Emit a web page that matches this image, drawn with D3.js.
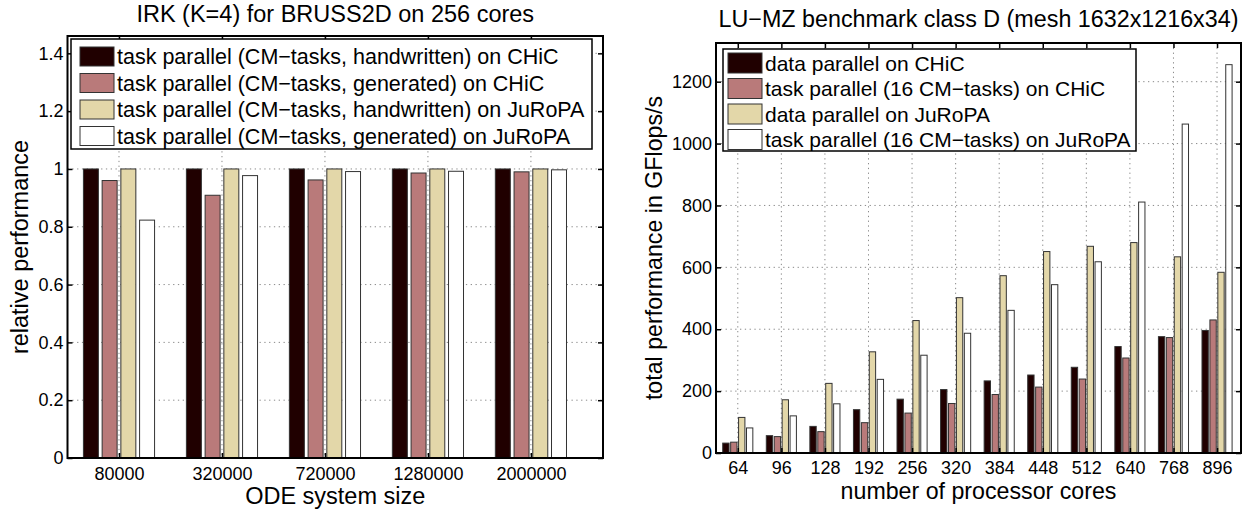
<!DOCTYPE html>
<html>
<head>
<meta charset="utf-8">
<script src="https://cdn.jsdelivr.net/npm/d3@7"></script>
<style>
html,body{margin:0;padding:0;background:#fff;}
svg{display:block;}
text{font-family:"Liberation Sans",Arial,Helvetica,sans-serif;fill:#000;}
</style>
</head>
<body>
<svg id="chart" width="1245" height="510"></svg>
<script>
// ---------- data: left chart ----------
const irkTitle = "IRK (K=4) for BRUSS2D on 256 cores";
const irkCategories = ["80000", "320000", "720000", "1280000", "2000000"];
const irkSeriesNames = [
  "task parallel (CM\u2212tasks, handwritten) on CHiC",
  "task parallel (CM\u2212tasks, generated) on CHiC",
  "task parallel (CM\u2212tasks, handwritten) on JuRoPA",
  "task parallel (CM\u2212tasks, generated) on JuRoPA"
];
const irkHandCHiC   = [1.0, 1.0, 1.0, 1.0, 1.0];
const irkGenCHiC    = [0.960, 0.909, 0.962, 0.986, 0.990];
const irkHandJuRoPA = [1.0, 1.0, 1.0, 1.0, 1.0];
const irkGenJuRoPA  = [0.823, 0.977, 0.991, 0.992, 0.997];
const irkYTicks = [0, 0.2, 0.4, 0.6, 0.8, 1, 1.2, 1.4];
const irkXLabel = "ODE system size";
const irkYLabel = "relative performance";

// ---------- data: right chart ----------
const luTitle = "LU\u2212MZ benchmark class D (mesh 1632x1216x34)";
const luCategories = ["64", "96", "128", "192", "256", "320", "384", "448", "512", "640", "768", "896"];
const luSeriesNames = [
  "data parallel on CHiC",
  "task parallel (16 CM\u2212tasks) on CHiC",
  "data parallel on JuRoPA",
  "task parallel (16 CM\u2212tasks) on JuRoPA"
];
const luDataCHiC   = [32, 56, 86, 140, 174, 205, 233, 252, 277, 344, 376, 396];
const luTaskCHiC   = [35, 53, 69, 98, 129, 160, 189, 213, 239, 307, 373, 430];
const luDataJuRoPA = [115, 172, 225, 327, 428, 502, 573, 651, 668, 680, 634, 584];
const luTaskJuRoPA = [81, 120, 159, 238, 316, 387, 461, 544, 618, 811, 1063, 1255];
const luYTicks = [0, 200, 400, 600, 800, 1000, 1200];
const luXLabel = "number of processor cores";
const luYLabel = "total performance in GFlops/s";

const seriesColors = ["#200000", "#b97a7a", "#e3d7a9", "#ffffff"];

// ---------- drawing ----------
const svg = d3.select("#chart");

function drawPanel(cfg) {
  const g = svg.append("g");
  const n = cfg.categories.length;
  const x = d3.scaleLinear().domain(cfg.xDomain).range([cfg.left, cfg.right]);
  const y = d3.scaleLinear().domain(cfg.yDomain).range([cfg.bottom, cfg.top]);
  const idx = d3.range(1, n + 1);

  // grid
  const grid = g.append("g").attr("stroke", "#8a8a8a").attr("stroke-width", 1)
    .attr("stroke-dasharray", "1.3,3.5").attr("fill", "none");
  grid.selectAll("line.gx").data(idx).join("line")
    .attr("x1", d => x(d)).attr("x2", d => x(d))
    .attr("y1", cfg.top).attr("y2", cfg.bottom);
  grid.selectAll("line.gy").data(cfg.yTicks.slice(1)).join("line")
    .attr("x1", cfg.left).attr("x2", cfg.right)
    .attr("y1", d => y(d)).attr("y2", d => y(d));

  // bars (MATLAB grouped layout)
  const ns = cfg.series.length;
  const groupW = Math.min(0.8, ns / (ns + 1.5));
  const slot = groupW / ns;
  const barW = slot * 0.8;
  cfg.series.forEach((vals, j) => {
    const off = -groupW / 2 + slot * (j + 0.5);
    g.append("g").selectAll("rect").data(vals).join("rect")
      .attr("x", (v, i) => x(i + 1 + off - barW / 2))
      .attr("width", x(barW) - x(0))
      .attr("y", v => y(v))
      .attr("height", v => y(0) - y(v))
      .attr("fill", seriesColors[j])
      .attr("stroke", "#333")
      .attr("stroke-width", 1);
  });

  // axes (inward ticks)
  const fs = cfg.tickFont;
  const ax = g.append("g");
  const bottomAx = d3.axisBottom(x).tickValues(idx).tickFormat(d => cfg.categories[d - 1])
    .tickSize(-5).tickPadding(cfg.xTickPad);
  const topAx = d3.axisTop(x).tickValues(idx).tickFormat("").tickSize(-5);
  const leftAx = d3.axisLeft(y).tickValues(cfg.yTicks).tickFormat(d3.format("~g"))
    .tickSize(-5).tickPadding(4);
  const rightAx = d3.axisRight(y).tickValues(cfg.yTicks).tickFormat("").tickSize(-5);
  ax.append("g").attr("transform", `translate(0,${cfg.bottom})`).call(bottomAx);
  ax.append("g").attr("transform", `translate(0,${cfg.top})`).call(topAx);
  ax.append("g").attr("transform", `translate(${cfg.left},0)`).call(leftAx);
  ax.append("g").attr("transform", `translate(${cfg.right},0)`).call(rightAx);
  ax.selectAll(".domain").remove();
  ax.selectAll(".tick line").attr("stroke", "#000").attr("stroke-width", 1.5);
  ax.selectAll(".tick text").attr("fill", "#000")
    .style("font-family", "Liberation Sans, Arial, sans-serif")
    .style("font-size", fs + "px");

  // box
  g.append("rect").attr("x", cfg.left).attr("y", cfg.top)
    .attr("width", cfg.right - cfg.left).attr("height", cfg.bottom - cfg.top)
    .attr("fill", "none").attr("stroke", "#000").attr("stroke-width", 2);

  // titles & labels
  g.append("text").attr("x", (cfg.left + cfg.right) / 2).attr("y", cfg.titleY)
    .attr("text-anchor", "middle").style("font-size", cfg.titleFont + "px").text(cfg.title);
  g.append("text").attr("x", (cfg.left + cfg.right) / 2).attr("y", cfg.xLabelY)
    .attr("text-anchor", "middle").style("font-size", cfg.labelFont + "px").text(cfg.xLabel);
  g.append("text")
    .attr("transform", `translate(${cfg.yLabelX},${(cfg.top + cfg.bottom) / 2}) rotate(-90)`)
    .attr("text-anchor", "middle").style("font-size", cfg.labelFont + "px").text(cfg.yLabel);

  // legend
  const L = cfg.legend;
  const lg = g.append("g");
  lg.append("rect").attr("x", L.x).attr("y", L.y).attr("width", L.w).attr("height", L.h)
    .attr("fill", "#fff").attr("stroke", "#000").attr("stroke-width", 1.5);
  cfg.names.forEach((name, j) => {
    const sy = L.y + L.padTop + j * L.row;
    lg.append("rect").attr("x", L.x + L.swX).attr("y", sy)
      .attr("width", L.swW).attr("height", L.swH)
      .attr("fill", seriesColors[j]).attr("stroke", "#333").attr("stroke-width", 1);
    lg.append("text").attr("x", L.x + L.textX).attr("y", sy + L.swH / 2)
      .attr("dy", "0.36em").style("font-size", L.font + "px").text(name);
  });
}

drawPanel({
  title: irkTitle, xLabel: irkXLabel, yLabel: irkYLabel,
  categories: irkCategories, names: irkSeriesNames,
  series: [irkHandCHiC, irkGenCHiC, irkHandJuRoPA, irkGenJuRoPA],
  yTicks: irkYTicks,
  left: 67.5, right: 603, top: 36, bottom: 458,
  xDomain: [0.5, 5.7], yDomain: [0, 1.46],
  tickFont: 18, titleFont: 23.5, labelFont: 23.5, xTickPad: 9,
  titleY: 22, xLabelY: 504, yLabelX: 28,
  legend: {x: 71, y: 39, w: 521, h: 110, padTop: 8, row: 26.5,
           swX: 9, swW: 34, swH: 19, textX: 46, font: 21.5}
});

drawPanel({
  title: luTitle, xLabel: luXLabel, yLabel: luYLabel,
  categories: luCategories, names: luSeriesNames,
  series: [luDataCHiC, luTaskCHiC, luDataJuRoPA, luTaskJuRoPA],
  yTicks: luYTicks,
  left: 716, right: 1241, top: 43, bottom: 453,
  xDomain: [0.5, 12.55], yDomain: [0, 1325],
  tickFont: 18, titleFont: 23.3, labelFont: 23.2, xTickPad: 8,
  titleY: 27, xLabelY: 499, yLabelX: 662,
  legend: {x: 723, y: 49, w: 413, h: 102, padTop: 4, row: 25.5,
           swX: 5, swW: 34, swH: 20, textX: 42, font: 21}
});
</script>
</body>
</html>
